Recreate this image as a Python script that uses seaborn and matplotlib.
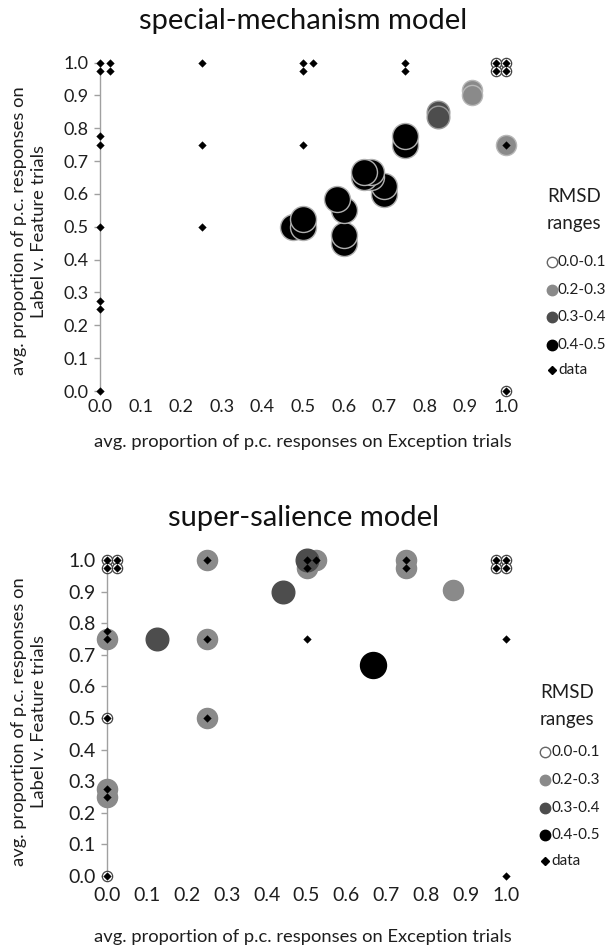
import matplotlib
matplotlib.use("Agg")
import matplotlib.pyplot as plt
import seaborn as sns
import pandas as pd
from matplotlib.lines import Line2D

sns.set_style("white")
plt.rcParams['font.family'] = ['Lato', 'DejaVu Sans']

# ---------------- data ----------------
rmsd_labels = ["0.0-0.1", "0.2-0.3", "0.3-0.4", "0.4-0.5"]

# Top panel: special-mechanism model
top_data_x = [0, 0, 0.025, 0.025, 0, 0, 0.25, 0.25, 0, 0.25, 0, 0, 0,
              0.5, 0.5, 0.525, 0.5, 0.75, 0.75,
              0.975, 1.0, 0.975, 1.0, 1.0, 1.0]
top_data_y = [1.0, 0.975, 1.0, 0.975, 0.775, 0.75, 1.0, 0.75, 0.5, 0.5, 0.275, 0.25, 0.0,
              1.0, 0.975, 1.0, 0.75, 1.0, 0.975,
              1.0, 1.0, 0.975, 0.975, 0.75, 0.0]
top_model_x = [0.975, 1.0, 0.975, 1.0, 1.0,
               0.917, 0.917, 1.0,
               0.833, 0.833,
               0.475, 0.5, 0.5, 0.6, 0.6, 0.6, 0.583, 0.7, 0.7,
               0.667, 0.65, 0.667, 0.65, 0.75, 0.75]
top_model_y = [1.0, 1.0, 0.975, 0.975, 0.0,
               0.915, 0.9, 0.75,
               0.85, 0.833,
               0.5, 0.5, 0.525, 0.45, 0.475, 0.55, 0.583, 0.6, 0.625,
               0.65, 0.65, 0.667, 0.667, 0.75, 0.775]
top_model_rmsd = ["0.0-0.1"] * 5 + ["0.2-0.3"] * 3 + ["0.3-0.4"] * 2 + ["0.4-0.5"] * 15

# Bottom panel: super-salience model
bot_data_x = [0, 0, 0.025, 0.025, 0, 0, 0.25, 0.25, 0.25, 0, 0, 0, 0,
              0.5, 0.5, 0.525, 0.5, 0.75, 0.75,
              0.975, 1.0, 0.975, 1.0, 1.0, 1.0]
bot_data_y = [1.0, 0.975, 1.0, 0.975, 0.775, 0.75, 1.0, 0.75, 0.5, 0.5, 0.275, 0.25, 0.0,
              1.0, 0.975, 1.0, 0.75, 1.0, 0.975,
              1.0, 1.0, 0.975, 0.975, 0.75, 0.0]
bot_model_x = [0, 0.025, 0, 0.025, 0, 0, 0.975, 1.0, 0.975, 1.0,
               0.125, 0.44, 0.5,
               0, 0.25, 0.25, 0.25, 0, 0, 0.525, 0.5, 0.75, 0.75, 0.867,
               0.667]
bot_model_y = [1.0, 1.0, 0.975, 0.975, 0.5, 0.0, 1.0, 1.0, 0.975, 0.975,
               0.75, 0.9, 1.0,
               0.75, 1.0, 0.75, 0.5, 0.275, 0.25, 1.0, 0.975, 1.0, 0.975, 0.905,
               0.667]
bot_model_rmsd = (["0.0-0.1"] * 10 + ["0.3-0.4"] * 3 + ["0.2-0.3"] * 11 + ["0.4-0.5"])

x_ticks = [0.0, 0.1, 0.2, 0.3, 0.4, 0.5, 0.6, 0.7, 0.8, 0.9, 1.0]
y_ticks = [0.0, 0.1, 0.2, 0.3, 0.4, 0.5, 0.6, 0.7, 0.8, 0.9, 1.0]

# ---------------- styles ----------------
fill = {"0.0-0.1": "white", "0.2-0.3": "#8a8a8a", "0.3-0.4": "#4d4d4d", "0.4-0.5": "black"}
size = {"0.0-0.1": 55, "0.2-0.3": 210, "0.3-0.4": 265, "0.4-0.5": 350}
TXT = "#1e1e1e"

W, H = 615, 952
fig = plt.figure(figsize=(W / 100, H / 100), dpi=100)


def fx(px):
    return px / W


def fy(py):
    return 1 - py / H


def panel(rect, title, title_py, dx, dy, mx, my, mr, tick_fs, xpad, edges, xlab_py, ylab_py,
          leg_x, leg_title_py, leg_rows_py):
    ax = fig.add_axes(rect)
    mdf = pd.DataFrame({"x": mx, "y": my, "rmsd": mr})
    for cat in rmsd_labels:
        sub = mdf[mdf["rmsd"] == cat]
        if len(sub) == 0:
            continue
        sns.scatterplot(data=sub, x="x", y="y", ax=ax, color=fill[cat], s=size[cat],
                        edgecolor=edges[cat], linewidth=1.0 if cat != "0.0-0.1" else 0.9,
                        clip_on=False, zorder=3, legend=False)
    ddf = pd.DataFrame({"x": dx, "y": dy})
    sns.scatterplot(data=ddf, x="x", y="y", ax=ax, marker="D", s=15, color="black",
                    edgecolor="black", linewidth=0.3, clip_on=False, zorder=5, legend=False)
    ax.set_xlim(0, 1.0)
    ax.set_ylim(0, 1.0)
    ax.set_xticks(x_ticks)
    ax.set_yticks(y_ticks)
    ax.set_xticklabels([f"{v:.1f}" for v in x_ticks], fontsize=tick_fs, color=TXT)
    ax.set_yticklabels([f"{v:.1f}" for v in y_ticks], fontsize=tick_fs, color=TXT)
    for s in ["top", "right", "bottom"]:
        ax.spines[s].set_visible(False)
    ax.spines["left"].set_color("#a0a0a0")
    ax.spines["left"].set_linewidth(1.0)
    ax.tick_params(axis="y", direction="out", length=4, width=1, color="#a0a0a0", pad=4, left=True)
    ax.tick_params(axis="x", length=0, pad=xpad)
    ax.set_xlabel("")
    ax.set_ylabel("")
    fig.text(fx(303), fy(title_py), title, ha="center", va="center", fontsize=21, color="#111111")
    fig.text(fx(303), fy(xlab_py), "avg. proportion of p.c. responses on Exception trials",
             ha="center", va="center", fontsize=13.2, color=TXT)
    fig.text(fx(29), fy(ylab_py), "avg. proportion of p.c. responses on\nLabel v. Feature trials",
             ha="center", va="center", rotation=90, fontsize=13.2, color=TXT,
             linespacing=1.3, multialignment="center")
    # legend (manual)
    fig.text(fx(leg_x), fy(leg_title_py[0]), "RMSD", ha="left", va="center", fontsize=13.5, color=TXT)
    fig.text(fx(leg_x), fy(leg_title_py[1]), "ranges", ha="left", va="center", fontsize=13.5, color=TXT)
    for i, cat in enumerate(rmsd_labels):
        ypx = leg_rows_py[i]
        fig.add_artist(Line2D([fx(leg_x + 5)], [fy(ypx)], transform=fig.transFigure,
                              linestyle="none", marker="o", markersize=7.5,
                              markerfacecolor=fill[cat],
                              markeredgecolor="#666666" if cat == "0.0-0.1" else fill[cat],
                              markeredgewidth=1.0))
        fig.text(fx(leg_x + 11), fy(ypx), cat, ha="left", va="center", fontsize=11, color=TXT)
    ypx = leg_rows_py[4]
    fig.add_artist(Line2D([fx(leg_x + 5)], [fy(ypx)], transform=fig.transFigure,
                          linestyle="none", marker="D", markersize=3.6,
                          markerfacecolor="black", markeredgecolor="black"))
    fig.text(fx(leg_x + 11), fy(ypx), "data", ha="left", va="center", fontsize=11, color=TXT)
    return ax


edges_top = {"0.0-0.1": "#444444", "0.2-0.3": "#b8b8b8", "0.3-0.4": "#9a9a9a", "0.4-0.5": "#b0b0b0"}
edges_bot = {"0.0-0.1": "#444444", "0.2-0.3": "#8a8a8a", "0.3-0.4": "#4d4d4d", "0.4-0.5": "black"}

panel([fx(100), fy(391), 406 / W, 328.5 / H], "special-mechanism model", 21,
      top_data_x, top_data_y, top_model_x, top_model_y, top_model_rmsd,
      13, 6, edges_top, 442, 231,
      547, (197, 223), (262, 290, 317, 345, 370))

panel([fx(107), fy(876), 399 / W, 316 / H], "super-salience model", 518,
      bot_data_x, bot_data_y, bot_model_x, bot_model_y, bot_model_rmsd,
      14, 8, edges_bot, 937, 722,
      540, (693, 720), (752, 780, 808, 835, 861))

fig.savefig("out.png", dpi=100)
